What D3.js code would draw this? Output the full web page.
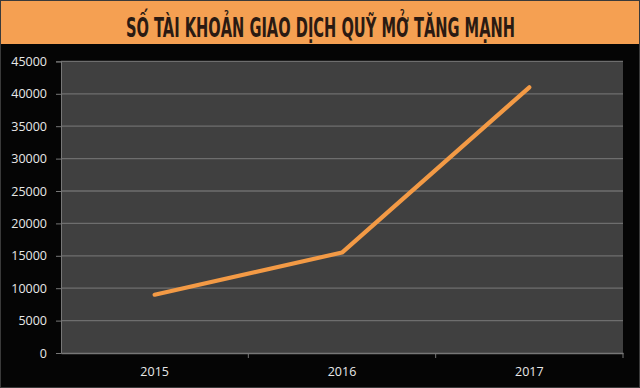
<!DOCTYPE html>
<html><head><meta charset="utf-8">
<script src="https://cdn.jsdelivr.net/npm/d3@7"></script>
<style>html,body{margin:0;padding:0;background:#050505;}svg{display:block;}</style>
</head><body>
<svg id="c" width="640" height="388"></svg>
<script>
const title = "SỐ TÀI KHOẢN GIAO DỊCH QUỸ MỞ TĂNG MẠNH";
const years = ["2015", "2016", "2017"];
const accounts = [9000, 15500, 41000];
const yTicks = [0, 5000, 10000, 15000, 20000, 25000, 30000, 35000, 40000, 45000];

const svg = d3.select("#c");
svg.append("rect").attr("width",640).attr("height",388).attr("fill","#050505");
svg.append("rect").attr("width",640).attr("height",44).attr("fill","#F5A052");
svg.append("text").attr("x",320.5).attr("y",37).attr("text-anchor","middle")
  .attr("font-family","'Liberation Sans Narrow','DejaVu Sans Condensed','Roboto Condensed',sans-serif")
  .attr("font-weight","bold").attr("font-size",27).attr("fill","#2a1a12")
  .attr("textLength",389).attr("lengthAdjust","spacingAndGlyphs")
  .text(title);

const m = {l:61, r:623, t:61.4, b:353};
const x = d3.scaleBand().domain(years).range([m.l, m.r]);
const y = d3.scaleLinear().domain([0,45000]).range([m.b, m.t]);

svg.append("rect").attr("x",m.l).attr("y",m.t).attr("width",m.r-m.l).attr("height",m.b-m.t).attr("fill","#404040");

// gridlines
svg.append("g").selectAll("line").data(yTicks.filter(d=>d>0)).join("line")
  .attr("x1",m.l).attr("x2",m.r).attr("y1",d=>y(d)).attr("y2",d=>y(d))
  .attr("stroke","#6e6e6e").attr("stroke-width",1.3);

// y axis
const ya = svg.append("g").attr("transform",`translate(${m.l},0)`)
  .call(d3.axisLeft(y).tickValues(yTicks).tickSize(5).tickPadding(9).tickFormat(d3.format("d")));
ya.select(".domain").attr("stroke","#777");
ya.selectAll(".tick line").attr("stroke","#777");
ya.selectAll("text").attr("fill","#e8e8e8").attr("font-family","'Open Sans',sans-serif").attr("font-size",12.5);

// x axis
const xa = svg.append("g").attr("transform",`translate(0,${m.b})`)
  .call(d3.axisBottom(x).tickSize(0).tickPadding(9));
xa.select(".domain").attr("stroke","#777").attr("stroke-width",1.5);
xa.selectAll("text").attr("fill","#e8e8e8").attr("font-family","'Open Sans',sans-serif").attr("font-size",12.5)
  .attr("dy","1.1em");
svg.append("g").selectAll("line").data(years).join("line")
  .attr("x1",d=>x(d)+x.bandwidth()).attr("x2",d=>x(d)+x.bandwidth())
  .attr("y1",m.b).attr("y2",m.b+5).attr("stroke","#777");

// line
const line = d3.line().x((d,i)=>x(years[i])+x.bandwidth()/2).y(d=>y(d));
svg.append("path").datum(accounts).attr("d",line).attr("fill","none")
  .attr("stroke","#F39A45").attr("stroke-width",4.2).attr("stroke-linecap","round").attr("stroke-linejoin","round");

// border
svg.append("rect").attr("x",0.5).attr("y",0.5).attr("width",639).attr("height",387)
  .attr("fill","none").attr("stroke","#3a3a3a");
</script>
</body></html>
